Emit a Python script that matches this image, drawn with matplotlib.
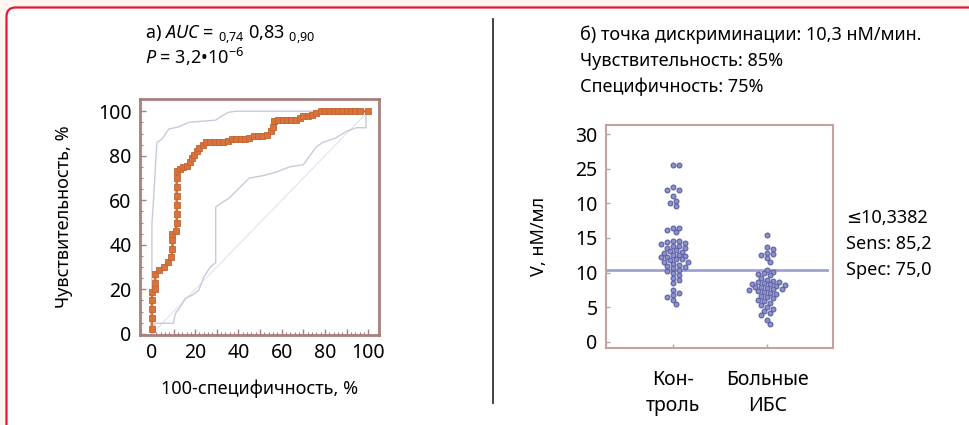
import matplotlib
matplotlib.use("Agg")
import matplotlib.pyplot as plt
import matplotlib.patches as mpatches
import matplotlib.lines as mlines
from matplotlib.path import Path
from matplotlib.transforms import IdentityTransform
import numpy as np

plt.rcParams['font.family'] = ['Noto Sans', 'DejaVu Sans']
plt.rcParams['mathtext.fontset'] = 'custom'
plt.rcParams['mathtext.rm'] = 'Noto Sans'
plt.rcParams['mathtext.it'] = 'Noto Sans:italic'

# --- data: ROC curve (panel a) ---
roc_fpr = [0, 0, 0, 0, 0, 1.5, 1.5, 1.5, 3.5, 5.5, 7.5, 9, 9.5, 9.5, 9.5, 11, 11.5,
           11.5, 11.5, 11.5, 11.5, 11.5, 11.5, 13, 14.5, 16, 17.5, 18.5, 19.5, 21,
           22, 23.5, 25, 27, 29, 31, 33, 35, 37, 39, 41, 43, 45, 47, 49, 51, 53, 55,
           56, 56.5, 58.5, 60.5, 62.5, 64.5, 66.5, 68.5, 70, 72, 74, 76, 78, 80, 82,
           84, 86, 88, 90, 92, 94, 96, 100]
roc_tpr = [2, 7, 11, 15, 19, 20, 23, 27, 28.5, 30, 32.5, 34.5, 38, 42, 45, 46, 50,
           54, 58, 62, 66, 70, 73, 74, 75, 75.5, 77, 79, 80.5, 82, 83.5, 85, 86, 86,
           86, 86, 86, 86.5, 87.5, 87.5, 87.5, 87.5, 88, 89, 89, 89, 89.5, 91, 93,
           95.5, 96, 96, 96, 96, 96, 97, 98, 98, 98.5, 99, 100, 100, 100, 100, 100,
           100, 100, 100, 100, 100, 100]
ci_up_fpr = [0, 0, 0.8, 2.3, 4.7, 7.8, 12.4, 17, 23, 29.5, 32.5, 35.7, 38.8, 100]
ci_up_tpr = [0, 49, 61, 86, 87.5, 92, 93, 95, 95.5, 96, 98, 99.6, 100, 100]
ci_lo_fpr = [0, 1.5, 10, 10.8, 13, 15.5, 18.6, 21.7, 24, 27, 29.5, 29.5, 32.5, 35.7,
             38.8, 42, 45, 51, 57, 63.6, 70, 73, 76, 79, 85, 90, 94.6, 99, 99, 100]
ci_lo_tpr = [0, 4.8, 4.8, 9, 12, 16, 17.4, 19.6, 25.6, 30, 32, 57, 59, 61, 64, 67,
             70, 71, 72.5, 75, 76, 80, 84, 86, 88, 91, 92.6, 92.6, 99.5, 100]
roc_xticklabels = ['0', '', '20', '', '40', '', '60', '', '80', '', '100']

# --- data: scatter (panel b) ---
groups = ['Кон-\nтроль', 'Больные\nИБС']
control = [25.5, 25.5, 22.3, 21.9, 21.9, 21.0, 20.4, 20.0, 19.6, 16.5, 16.4, 16.2,
           15.9, 14.6, 14.5, 14.4, 14.3, 14.2, 13.9, 13.8, 13.6, 13.5, 13.3, 13.1,
           13.0, 12.8, 12.6, 12.5, 12.4, 12.3, 12.2, 12.0, 11.9, 11.8, 11.6, 11.5,
           11.3, 11.1, 11.0, 10.8, 10.6, 10.4, 10.2, 9.9, 9.6, 9.2, 8.9, 8.5, 7.5,
           7.1, 6.8, 6.5, 6.0, 5.5]
patients = [15.4, 13.7, 13.4, 12.9, 12.7, 12.5, 12.1, 11.5, 10.4, 10.1, 9.9, 9.8,
            9.6, 9.3, 9.0, 8.8, 8.7, 8.6, 8.5, 8.4, 8.3, 8.2, 8.1, 8.0, 7.9, 7.8,
            7.7, 7.6, 7.5, 7.4, 7.2, 7.0, 6.9, 6.7, 6.5, 6.3, 6.1, 5.9, 5.6, 5.3,
            5.0, 4.8, 4.5, 4.2, 3.9, 3.2, 2.6]
cutoff = 10.3382
v_yticks = [0, 5, 10, 15, 20, 25, 30]
v_yticklabels = ['0', '5', '10', '15', '10', '25', '30']

spine_c = '#a87e7e'
spine_c2 = '#c4a2a2'
ci_c = '#c9c9dc'
orange = '#d7743e'
dot_c = '#5a5fa6'
fs = 13
tfs = 14

fig = plt.figure(figsize=(9.69, 4.25), dpi=100, facecolor='#fff7ef')

# red rounded frame (pixel coordinates, open at right and bottom)
W, H = 969, 425
fx, fy, r = 6.5, H - 7.5, 9
inner = mpatches.Rectangle((fx, -10), W + 20, fy + 10, transform=IdentityTransform(),
                           facecolor='white', edgecolor='none', zorder=-6)
fig.patches.append(inner)
verts = [(fx, -10), (fx, fy - r), (fx, fy), (fx + r, fy), (W + 20, fy)]
codes = [Path.MOVETO, Path.LINETO, Path.CURVE3, Path.CURVE3, Path.LINETO]
frame = mpatches.PathPatch(Path(verts, codes), transform=IdentityTransform(),
                           facecolor='none', edgecolor='#e2193d', lw=1.6, zorder=-5)
fig.patches.append(frame)
fig.add_artist(mlines.Line2D([493 / W, 493 / W], [1 - 19 / H, 1 - 403 / H],
                             color='#333333', lw=1.3, transform=fig.transFigure))


def style_spines(ax, lw, c):
    for s in ax.spines.values():
        s.set_color(c)
        s.set_linewidth(lw)


# ---- panel a ----
ax1 = fig.add_axes([140 / W, 1 - 335 / H, 239 / W, 236 / H])
ax1.plot([0, 100], [0, 100], color='#e3e3ee', lw=0.8)
ax1.plot(ci_up_fpr, ci_up_tpr, color=ci_c, lw=1.0)
ax1.plot(ci_lo_fpr, ci_lo_tpr, color=ci_c, lw=1.0)
ax1.plot(roc_fpr, roc_tpr, color=orange, lw=2, marker='s', markersize=4.8,
         markerfacecolor=orange, markeredgecolor='#c4622f', markeredgewidth=0.6)
ax1.set_xlim(-5.5, 105)
ax1.set_ylim(-0.5, 105.5)
ax1.set_xticks(range(0, 101, 10))
ax1.set_xticklabels(roc_xticklabels)
ax1.set_xticks(range(0, 101, 2), minor=True)
ax1.set_yticks(range(0, 101, 20))
ax1.set_yticks(range(0, 101, 5), minor=True)
ax1.tick_params(axis='both', which='major', direction='in', length=4, width=1,
                color=spine_c, labelsize=tfs, pad=6)
ax1.tick_params(axis='both', which='minor', direction='in', length=2, width=0.8,
                color=spine_c)
style_spines(ax1, 2, spine_c)
ax1.set_xlabel('100-специфичность, %', fontsize=fs, labelpad=12)
ax1.set_ylabel('Чувствительность, %', fontsize=fs, labelpad=18)

fig.text(145 / W, 1 - 35 / H,
         r'а) $AUC$ = $_{0{,}74}$ 0,83 $_{0{,}90}$', fontsize=fs, va='center')
fig.text(145 / W, 1 - 57 / H, r'$P$ = 3,2•10$^{-6}$', fontsize=fs, va='center')

# ---- panel b ----
ax2 = fig.add_axes([606 / W, 1 - 348 / H, 227 / W, 223 / H])
xlim = (-0.713, 1.70)
ylim = (-0.87, 31.3)
ax2.set_xlim(*xlim)
ax2.set_ylim(*ylim)
xpx = 227 / (xlim[1] - xlim[0])
ypx = 223 / (ylim[1] - ylim[0])


def swarm(vals, d=5.0):
    placed = []
    offs = []
    for v in vals:
        y = v * ypx
        for k in range(0, 60):
            step = ((k + 1) // 2) * d * 0.6 * (1 if k % 2 else -1)
            if all((step - px) ** 2 + (y - py) ** 2 >= (d * 0.9) ** 2 for px, py in placed):
                break
        placed.append((step, y))
        offs.append(step / xpx)
    return np.array(offs)


ax2.axhline(cutoff, xmax=0.975, color='#9fa3d2', lw=2, zorder=1)
for i, vals in enumerate([control, patients]):
    offs = swarm(vals)
    ax2.scatter(i + offs, vals, s=12, facecolor='#8d91c8', edgecolor=dot_c,
                linewidths=0.8, zorder=3)
ax2.set_xticks([0, 1])
ax2.set_xticklabels(groups, fontsize=fs, linespacing=1.4)
ax2.set_yticks(v_yticks)
ax2.set_yticklabels(v_yticklabels)
ax2.tick_params(axis='both', direction='in', length=3, width=1, color=spine_c2,
                labelsize=tfs, pad=6)
ax2.tick_params(axis='x', pad=16)
style_spines(ax2, 1.5, spine_c2)
ax2.set_ylabel('V, нМ/мл', fontsize=fs, labelpad=20)

fig.text(580 / W, 1 - 35 / H, 'б) точка дискриминации: 10,3 нМ/мин.', fontsize=fs,
         va='center')
fig.text(580 / W, 1 - 61 / H, 'Чувствительность: 85%', fontsize=fs, va='center')
fig.text(580 / W, 1 - 87 / H, 'Специфичность: 75%', fontsize=fs, va='center')

for j, t in enumerate(['≤10,3382', 'Sens: 85,2', 'Spec: 75,0']):
    fig.text(846 / W, 1 - (218 + 26 * j) / H, t, fontsize=fs, va='center')

fig.savefig('out.png', dpi=100, facecolor=fig.get_facecolor())
